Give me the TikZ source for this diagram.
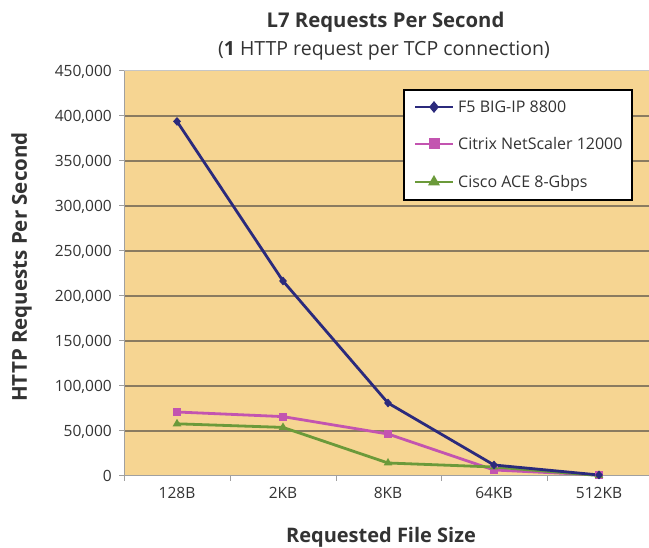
\documentclass[tikz,border=0pt]{standalone}
\usepackage{fontspec}
\setmainfont{Open Sans}
\usetikzlibrary{shapes.geometric,calc}
\definecolor{plotbg}{HTML}{F6D592}
\definecolor{gridc}{HTML}{8A7B60}
\definecolor{axisc}{HTML}{A0A0A0}
\definecolor{txt}{HTML}{333333}
\definecolor{fivec}{HTML}{2B2A7C}
\definecolor{citc}{HTML}{C354B0}
\definecolor{ciscoc}{HTML}{6B9A3A}
\tikzset{
  grid line/.style={gridc, line width=1.2pt},
  ylab/.style={anchor=base east, text=txt, font=\fontsize{15.5}{15.5}\selectfont, inner sep=0pt},
  xlab/.style={anchor=base, text=txt, font=\fontsize{15.5}{15.5}\selectfont, inner sep=0pt},
  series/.style={line width=2.8pt, line join=round},
  dmark/.style={diamond, fill=fivec, inner sep=0pt, minimum width=8pt, minimum height=9pt},
  smark/.style={rectangle, fill=citc, inner sep=0pt, minimum size=8pt},
  tmark/.style={regular polygon, regular polygon sides=3, fill=ciscoc, inner sep=0pt, minimum size=10pt},
  legtext/.style={anchor=base west, text=txt, font=\fontsize{16}{16}\selectfont, inner sep=0pt},
}
\begin{document}
\begin{tikzpicture}[x=1pt,y=-1pt]
\useasboundingbox[fill=white] (0,0) rectangle (649,548);
% plot area
\fill[plotbg] (124,71) rectangle (649,476);
\draw[axisc!60, line width=1pt] (124,71) -- (649,71);
\foreach \yy in {116,161,206,251,296,341,386,431}
  \draw[grid line] (124,\yy) -- (649,\yy);
\draw[axisc, line width=1pt] (124,71) -- (124,476) -- (649,476);
\foreach \yy in {71,116,161,206,251,296,341,386,431,476}
  \draw[axisc, line width=1pt] (119,\yy) -- (124,\yy);
\foreach \xx in {124,230,336,441,547}
  \draw[axisc, line width=1pt] (\xx,476) -- (\xx,481);
% y labels
\node[ylab] (y0) at (112,481.5) {0};
\node[ylab] (y1) at (112,436.5) {50,000};
\node[ylab] (y2) at (112,391.5) {100,000};
\node[ylab] (y3) at (112,346.5) {150,000};
\node[ylab] (y4) at (112,301.5) {200,000};
\node[ylab] (y5) at (112,256.5) {250,000};
\node[ylab] (y6) at (112,211.5) {300,000};
\node[ylab] (y7) at (112,166.5) {350,000};
\node[ylab] (y8) at (112,121.5) {400,000};
\node[ylab] (y9) at (112,76.5) {450,000};
% x labels
\node[xlab] (c1) at (177,499) {128B};
\node[xlab] (c2) at (283,499) {2KB};
\node[xlab] (c3) at (388,499) {8KB};
\node[xlab] (c4) at (494,499) {64KB};
\node[xlab] (c5) at (599,499) {512KB};
% titles
\node[anchor=base, text=txt, font=\bfseries\fontsize{20.3}{20.3}\selectfont, inner sep=0pt] (title) at (385.5,28) {L7 Requests Per Second};
\node[anchor=base, text=txt, font=\fontsize{19.5}{19.5}\selectfont, inner sep=0pt] (sub) at (384,56) {(\textbf{1} HTTP request per TCP connection)};
\node[anchor=base, text=txt, font=\bfseries\fontsize{20.5}{20.5}\selectfont, inner sep=0pt, rotate=90] (ytitle) at (27,267) {HTTP Requests Per Second};
\node[anchor=base, text=txt, font=\bfseries\fontsize{20}{20}\selectfont, inner sep=0pt] (xtitle) at (381,543) {Requested File Size};
% data coordinates
\coordinate (f1) at (177,121.4);
\coordinate (f2) at (283,281);
\coordinate (f3) at (388,403);
\coordinate (f4) at (494,465);
\coordinate (f5) at (599,475);
\coordinate (n1) at (177,412);
\coordinate (n2) at (283,416.6);
\coordinate (n3) at (388,434);
\coordinate (n4) at (494,470);
\coordinate (n5) at (599,475);
\coordinate (g1) at (177,423.8);
\coordinate (g2) at (283,427.4);
\coordinate (g3) at (388,463);
\coordinate (g4) at (494,467);
\coordinate (g5) at (599,475.5);
\draw[series, citc] (n1) -- (n2) -- (n3) -- (n4) -- (n5);
\draw[series, ciscoc] (g1) -- (g2) -- (g3) -- (g4) -- (g5);
\draw[series, fivec] (f1) -- (f2) -- (f3) -- (f4) -- (f5);
\foreach \p in {n1,n2,n3,n4,n5} \node[smark] at (\p) {};
\foreach \p in {g1,g2,g3,g4,g5} \node[tmark] at (\p) {};
\foreach \p in {f1,f2,f3,f4,f5} \node[dmark] at (\p) {};
% legend
\draw[black, line width=2pt, fill=white] (404,90) rectangle (632,200);
\coordinate (la1) at (415,107); \coordinate (lb1) at (453,107);
\coordinate (la2) at (415,144); \coordinate (lb2) at (453,144);
\coordinate (la3) at (415,182); \coordinate (lb3) at (453,182);
\draw[series, fivec] (la1) -- (lb1);
\draw[series, citc] (la2) -- (lb2);
\draw[series, ciscoc] (la3) -- (lb3);
\node[dmark, minimum width=10pt, minimum height=12pt] (lm1) at ($(la1)!0.5!(lb1)$) {};
\node[smark, minimum size=11pt] (lm2) at ($(la2)!0.5!(lb2)$) {};
\node[tmark, minimum size=14pt] (lm3) at ($(la3)!0.5!(lb3)$) {};
\node[legtext] (l1) at (458,113) {F5 BIG-IP 8800};
\node[legtext] (l2) at (458,150) {Citrix NetScaler 12000};
\node[legtext] (l3) at (458,188) {Cisco ACE 8-Gbps};
\end{tikzpicture}
\end{document}
